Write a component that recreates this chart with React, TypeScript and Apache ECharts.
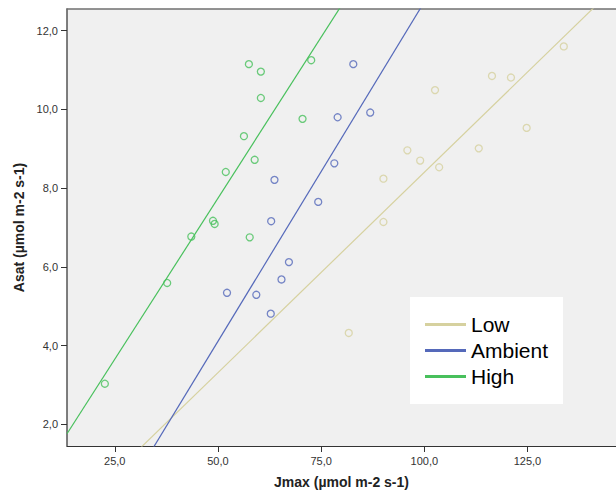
import React, { useEffect, useRef } from "react";
import * as echarts from "echarts";

// Low CO2 treatment
const lowJmax = [133.8, 102.6, 116.4, 121.0, 124.8, 95.9, 99.0, 103.6, 113.2, 90.1, 90.1, 81.7];
const lowAsat = [11.6, 10.49, 10.85, 10.81, 9.53, 8.96, 8.7, 8.53, 9.01, 8.24, 7.14, 4.32];
// Ambient
const ambientJmax = [82.8, 79.0, 86.9, 78.2, 63.7, 74.3, 62.9, 67.2, 65.4, 52.2, 59.3, 62.8];
const ambientAsat = [11.15, 9.8, 9.92, 8.63, 8.21, 7.65, 7.16, 6.12, 5.68, 5.34, 5.29, 4.81];
// High
const highJmax = [22.6, 37.7, 43.55, 48.8, 49.2, 51.9, 56.3, 57.5, 57.7, 58.9, 60.4, 60.4, 70.5, 72.6];
const highAsat = [3.03, 5.59, 6.77, 7.17, 7.09, 8.41, 9.32, 11.15, 6.75, 8.72, 10.96, 10.29, 9.76, 11.25];

const groupNames = ["Low", "Ambient", "High"];
const xTicks = [25, 50, 75, 100, 125];
const yTicks = [2, 4, 6, 8, 10, 12];

const X_MIN = 13.43;
const X_MAX = 146.45;
const Y_MIN = 1.448;
const Y_MAX = 12.551;

const colors = ["#d6d19f", "#5569ba", "#48c05c"];
const FONT = '"Liberation Sans", Arial, sans-serif';

function fitLine(xs: number[], ys: number[]) {
  const n = xs.length;
  const mx = xs.reduce((s, v) => s + v, 0) / n;
  const my = ys.reduce((s, v) => s + v, 0) / n;
  let sxy = 0;
  let sxx = 0;
  for (let i = 0; i < n; i++) {
    sxy += (xs[i] - mx) * (ys[i] - my);
    sxx += (xs[i] - mx) * (xs[i] - mx);
  }
  const b = sxy / sxx;
  const a = my - b * mx;
  return [
    [X_MIN, a + b * X_MIN],
    [X_MAX, a + b * X_MAX],
  ];
}

const fmt = (v: number) => v.toFixed(1).replace(".", ",");

export default function App() {
  const ref = useRef<HTMLDivElement>(null);
  useEffect(() => {
    if (!ref.current) return;
    const chart = echarts.init(ref.current, null, { renderer: "svg" });
    const groups = [
      [lowJmax, lowAsat],
      [ambientJmax, ambientAsat],
      [highJmax, highAsat],
    ];
    const scatterSeries = groups.map((g, k) => ({
      name: groupNames[k] + " points",
      type: "scatter",
      symbol: "circle",
      symbolSize: 7,
      data: g[0].map((x, i) => [x, g[1][i]]),
      itemStyle: { color: "rgba(0,0,0,0)", borderColor: colors[k], borderWidth: 1.3 },
      z: 3,
    }));
    const lineSeries = groups.map((g, k) => ({
      name: groupNames[k],
      type: "line",
      symbol: "none",
      clip: true,
      data: fitLine(g[0], g[1]),
      lineStyle: { color: colors[k], width: 1.2 },
      itemStyle: { color: colors[k] },
      z: 2,
    }));
    chart.setOption({
      animation: false,
      backgroundColor: "#ffffff",
      grid: {
        left: 67,
        top: 9,
        width: 552,
        height: 437,
        show: true,
        backgroundColor: "#f0f0f0",
        borderWidth: 0,
      },
      legend: {
        orient: "vertical",
        left: 410,
        top: 297,
        padding: [17, 15, 17, 15],
        backgroundColor: "#ffffff",
        itemWidth: 41,
        itemHeight: 3,
        itemGap: 5,
        selectedMode: false,
        data: groupNames.map((n) => ({ name: n, icon: "rect" })),
        textStyle: { fontFamily: FONT, fontSize: 21, color: "#000", lineHeight: 20.5 },
      },
      xAxis: [
        {
          type: "value",
          min: X_MIN,
          max: X_MAX,
          name: "Jmax (µmol m-2 s-1)",
          nameLocation: "middle",
          nameGap: 29,
          nameTextStyle: { fontFamily: FONT, fontSize: 14, fontWeight: "bold", color: "#222" },
          axisLine: { show: true, onZero: false, lineStyle: { color: "#333", width: 1 } },
          axisTick: { show: true, length: 6, customValues: xTicks, lineStyle: { color: "#333" } },
          axisLabel: {
            customValues: xTicks,
            formatter: fmt,
            margin: 9,
            fontFamily: FONT,
            fontSize: 11,
            color: "#333",
          },
          splitLine: { show: false },
        },
        {
          type: "value",
          position: "top",
          min: X_MIN,
          max: X_MAX,
          axisLine: { show: true, onZero: false, lineStyle: { color: "#707070", width: 1.5 } },
          axisTick: { show: false },
          axisLabel: { show: false },
          splitLine: { show: false },
        },
      ],
      yAxis: {
        type: "value",
        min: Y_MIN,
        max: Y_MAX,
        name: "Asat (µmol m-2 s-1)",
        nameLocation: "middle",
        nameGap: 38,
        nameTextStyle: { fontFamily: FONT, fontSize: 14, fontWeight: "bold", color: "#222" },
        axisLine: { show: true, onZero: false, lineStyle: { color: "#555", width: 1.5 } },
        axisTick: { show: true, length: 6, customValues: yTicks, lineStyle: { color: "#333" } },
        axisLabel: {
          customValues: yTicks,
          formatter: fmt,
          margin: 9,
          fontFamily: FONT,
          fontSize: 11,
          color: "#333",
        },
        splitLine: { show: false },
      },
      series: [...lineSeries, ...scatterSeries],
    });
    return () => chart.dispose();
  }, []);
  return (
    <div
      ref={ref}
      style={{ position: "fixed", left: 0, top: 0, width: 616, height: 495, background: "#fff" }}
    />
  );
}
